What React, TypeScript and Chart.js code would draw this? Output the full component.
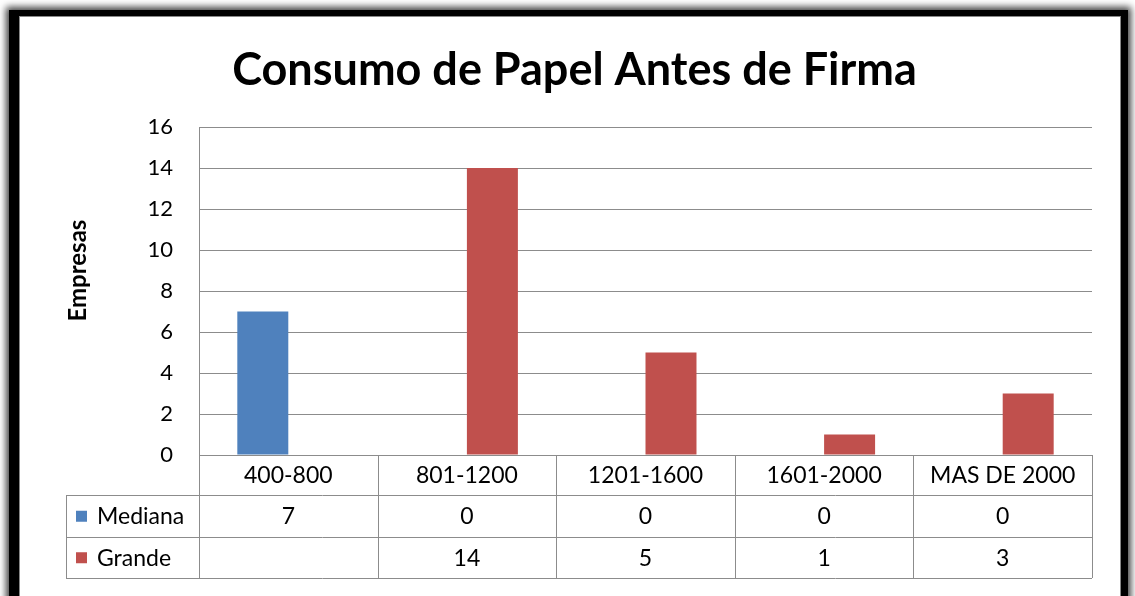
import React, { useEffect, useRef } from "react";
import { Chart, registerables } from "chart.js";

Chart.register(...registerables);

const categories = ["400-800", "801-1200", "1201-1600", "1601-2000", "MAS DE 2000"];
const medianaValues: (number | null)[] = [7, 0, 0, 0, 0];
const grandeValues: (number | null)[] = [null, 14, 5, 1, 3];
const seriesNames = ["Mediana", "Grande"];
const seriesColors = ["#4F81BD", "#C0504D"];
const chartTitle = "Consumo de Papel Antes de Firma";
const yAxisTitle = "Empresas";

const FONT = "Lato, 'Open Sans', sans-serif";
const LINE = "#8c8c8c";

const tablePlugin = {
  id: "dataTable",
  afterDraw(chart: any) {
    const ctx = chart.ctx;
    const area = chart.chartArea;
    const xs = chart.scales.x;
    const n = categories.length;
    const left = area.left;
    const right = area.right;
    const colW = (right - left) / n;
    const rowTop = area.bottom;
    const headerH = 40;
    const rowH = 41.5;
    const tableLeft = 45;
    const bottom = rowTop + headerH + rowH * 2;
    ctx.save();
    ctx.strokeStyle = LINE;
    ctx.lineWidth = 1;
    const hl = (x1: number, x2: number, y: number) => {
      ctx.beginPath();
      ctx.moveTo(x1, Math.round(y) + 0.5);
      ctx.lineTo(x2, Math.round(y) + 0.5);
      ctx.stroke();
    };
    const vl = (x: number, y1: number, y2: number) => {
      ctx.beginPath();
      ctx.moveTo(Math.round(x) + 0.5, y1);
      ctx.lineTo(Math.round(x) + 0.5, y2);
      ctx.stroke();
    };
    hl(left, right, rowTop);
    hl(tableLeft, right, rowTop + headerH);
    hl(tableLeft, right, rowTop + headerH + rowH);
    hl(tableLeft, right, bottom);
    vl(tableLeft, rowTop + headerH, bottom);
    for (let i = 0; i <= n; i++) {
      vl(left + colW * i, i === 0 ? area.top : rowTop, bottom);
    }
    ctx.fillStyle = "#000";
    ctx.font = `23px ${FONT}`;
    ctx.textAlign = "center";
    ctx.textBaseline = "middle";
    categories.forEach((c, i) => {
      const cx = xs.getPixelForValue(i);
      ctx.fillText(c, cx, rowTop + headerH / 2 + 1);
    });
    const rows = [medianaValues, grandeValues];
    rows.forEach((vals, r) => {
      const cy = rowTop + headerH + rowH * r + rowH / 2 + 1;
      ctx.fillStyle = seriesColors[r];
      ctx.fillRect(tableLeft + 10, cy - 6, 11, 11);
      ctx.fillStyle = "#000";
      ctx.textAlign = "left";
      ctx.fillText(seriesNames[r], tableLeft + 31, cy);
      ctx.textAlign = "center";
      vals.forEach((v, i) => {
        if (v === null) return;
        ctx.fillText(String(v), xs.getPixelForValue(i), cy);
      });
    });
    ctx.restore();
  },
};

export default function App() {
  const ref = useRef<HTMLCanvasElement>(null);
  useEffect(() => {
    if (!ref.current) return;
    const chart = new Chart(ref.current, {
      type: "bar",
      data: {
        labels: categories,
        datasets: [
          {
            label: seriesNames[0],
            data: medianaValues,
            backgroundColor: seriesColors[0],
            categoryPercentage: 0.571,
            barPercentage: 1,
          },
          {
            label: seriesNames[1],
            data: grandeValues,
            backgroundColor: seriesColors[1],
            categoryPercentage: 0.571,
            barPercentage: 1,
          },
        ],
      },
      options: {
        responsive: false,
        animation: false,
        layout: { padding: { left: 36, right: 28, top: 0, bottom: 141 } },
        plugins: {
          legend: { display: false },
          tooltip: { enabled: false },
          title: {
            display: true,
            text: chartTitle,
            color: "#000",
            font: { family: FONT, size: 45, weight: "bold" },
            padding: { top: 26, bottom: 30 },
          },
        },
        scales: {
          x: {
            display: false,
          },
          y: {
            min: 0,
            max: 16,
            ticks: {
              stepSize: 2,
              color: "#000",
              padding: 26,
              font: { family: FONT, size: 22 },
            },
            grid: { color: LINE, drawTicks: false },
            border: { display: true, color: LINE },
            title: {
              display: true,
              text: "       " + yAxisTitle,
              color: "#000",
              font: { family: FONT, size: 24, weight: "bold" },
              padding: { top: 7, bottom: 0 },
            },
            afterFit(scale: any) {
              scale.width = 142;
            },
          },
        },
      },
      plugins: [tablePlugin],
    });
    return () => chart.destroy();
  }, []);

  return (
    <div
      style={{
        position: "fixed",
        left: 0,
        top: 0,
        width: 1135,
        height: 596,
        background: "#fff",
        overflow: "hidden",
      }}
    >
      <div
        style={{
          position: "absolute",
          left: 9,
          top: 10,
          width: 1119,
          height: 700,
          boxSizing: "border-box",
          borderStyle: "solid",
          borderColor: "#000",
          borderWidth: "6px 7px 6px 10px",
          boxShadow: "0 0 7px 3px rgba(0,0,0,0.75), inset 0 0 0 1px #888",
          background: "#fff",
        }}
      />
      <canvas
        ref={ref}
        width={1099}
        height={579}
        style={{ position: "absolute", left: 21, top: 17, width: 1099, height: 579 }}
      />
    </div>
  );
}
